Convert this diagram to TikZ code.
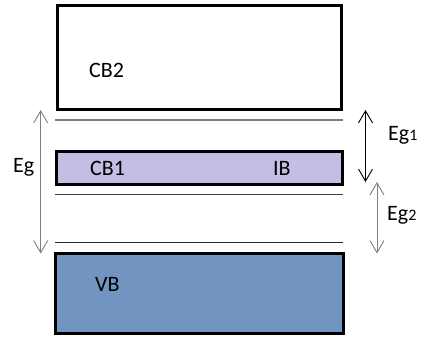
\documentclass[tikz,border=0pt]{standalone}
\usepackage{fontspec}
\setmainfont{Carlito}
\usetikzlibrary{arrows.meta}
\definecolor{cbone}{HTML}{C5BDE3}
\definecolor{vbfill}{HTML}{7194C1}
\definecolor{lgray}{HTML}{7F7F7F}
\definecolor{dgray}{HTML}{404040}
\tikzset{
  band/.style={draw=black, line width=3pt, rectangle, inner sep=0pt, outer sep=0pt},
  lbl/.style={anchor=base west, inner sep=0pt, font=\fontsize{22}{22}\selectfont},
  gapline/.style={line width=1.2pt},
  gaparrow/.style={line width=0.9pt, {Straight Barb[length=12pt,width=14pt]}-{Straight Barb[length=12pt,width=14pt]}},
}
\newcommand{\smalldigit}[1]{{\fontsize{16}{16}\selectfont #1}}
\begin{document}
\begin{tikzpicture}[x=1pt,y=-1pt]
\useasboundingbox (0,0) rectangle (421,338);
% bands
\node[band, fill=white, minimum width=284pt, minimum height=104pt] (cb2) at (199.5,57) {};
\node[band, fill=cbone, minimum width=286pt, minimum height=33pt] (cb1) at (199.5,167.5) {};
\node[band, fill=vbfill, minimum width=288.3pt, minimum height=79.6pt] (vb) at (199.15,293.5) {};
% band labels
\node[lbl] (cb2t) at (89,77) {CB2};
\node[lbl] (cb1t) at (90,175) {CB1};
\node[lbl] (ibt) at (273,175) {IB};
\node[lbl] (vbt) at (95,291) {VB};
% band edge lines
\coordinate (l1a) at (55,120); \coordinate (l1b) at (343,120);
\coordinate (l2a) at (55,194.3); \coordinate (l2b) at (343,194.3);
\coordinate (l3a) at (55,242.7); \coordinate (l3b) at (343,242.7);
\draw[gapline, lgray] (l1a) -- (l1b);
\draw[gapline, dgray] (l2a) -- (l2b);
\draw[gapline, black!85] (l3a) -- (l3b);
% arrows
\coordinate (egt) at (40.7,110); \coordinate (egb) at (40.7,253.5);
\coordinate (eg1t) at (365.5,110); \coordinate (eg1b) at (365.5,182);
\coordinate (eg2t) at (377,182); \coordinate (eg2b) at (377,253.5);
\draw[gaparrow, lgray] (egt) -- (egb);
\draw[gaparrow, black] (eg1t) -- (eg1b);
\draw[gaparrow, lgray] (eg2t) -- (eg2b);
% gap labels
\node[lbl] (egl) at (13,172) {Eg};
\node[lbl] (eg1l) at (388,140) {Eg\smalldigit{1}};
\node[lbl] (eg2l) at (387,220) {Eg\smalldigit{2}};
\end{tikzpicture}
\end{document}
